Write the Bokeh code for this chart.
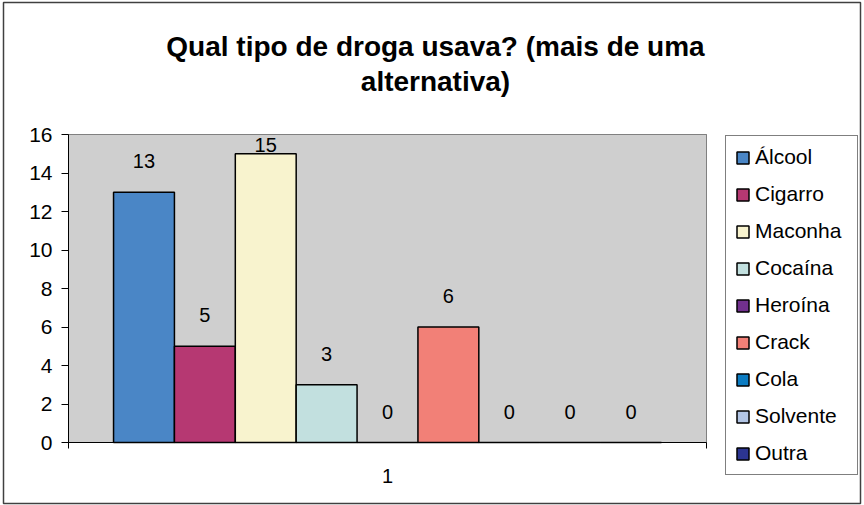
from bokeh.plotting import figure
from bokeh.models import (ColumnDataSource, FixedTicker, Legend, LegendItem,
                          Label, Range1d, BoxAnnotation)
from bokeh.embed import file_html
from bokeh.resources import INLINE
from bokeh.core.properties import value

# --- data -------------------------------------------------------------
drugs = ["Álcool", "Cigarro", "Maconha", "Cocaína", "Heroína",
         "Crack", "Cola", "Solvente", "Outra"]
counts = [13, 5, 15, 3, 0, 6, 0, 0, 0]
bar_colors = ["#4a86c6", "#b63872", "#f8f3ce", "#c2e0df", "#72308e",
              "#f28077", "#0c7cc2", "#b2c5e5", "#2c3591"]
y_ticks = [0, 2, 4, 6, 8, 10, 12, 14, 16]
category_label = "1"
title_lines = ["Qual tipo de droga usava? (mais de uma", "alternativa)"]

# --- layout (pixels on the 864x505 canvas) ----------------------------
FONT = "Liberation Sans"
W, H = 864, 505
AREA_L, AREA_R, AREA_T, AREA_B = 68, 706, 134, 442   # grey plot area
Y_MAX = 16
n = len(drugs)
gap = 0.74                                # empty space beside the bar group
lb, rb = -0.5 - gap, n - 0.5 + gap        # category boundaries
center = (n - 1) / 2
sx = (AREA_R - AREA_L) / (rb - lb)        # px per x unit
sy = (AREA_B - AREA_T) / Y_MAX            # px per y unit


def X(px):
    return lb + (px - AREA_L) / sx


def Y(py):
    return (AREA_B - py) / sy


xs = list(range(n))
label_y = [min(v + 1.6, Y_MAX - 0.55) for v in counts]
source = ColumnDataSource(dict(x=xs, top=counts, color=bar_colors,
                               ly=label_y, txt=[str(v) for v in counts]))

# the frame covers the whole canvas; axes sit at fixed data locations
p = figure(width=W, height=H, output_backend="svg", toolbar_location=None,
           x_range=Range1d(X(0), X(W)), y_range=Range1d(Y(H), Y(0)),
           min_border=0)
p.background_fill_color = "white"
p.border_fill_color = "white"
p.outline_line_color = None
p.xgrid.visible = False
p.ygrid.visible = False

# grey plot area with its outline
p.add_layout(BoxAnnotation(left=lb, right=rb, bottom=0, top=Y_MAX,
                           fill_color="#cfcfcf", fill_alpha=1,
                           line_color="#808080", line_width=1, line_alpha=1,
                           level="underlay"))
# horizontal grid lines at the value ticks
grid_y = [t for t in y_ticks if t > 0]
p.segment(x0=[lb] * len(grid_y), x1=[rb] * len(grid_y), y0=grid_y, y1=grid_y,
          line_color="#2a2a2a", line_width=1, level="underlay")

bars = p.vbar(x="x", top="top", width=1.0, source=source,
              fill_color="color", line_color="black", line_width=1.5)

p.text(x="x", y="ly", text="txt", source=source,
       text_font=value(FONT), text_font_size="20px", text_color="black",
       text_align="center", text_baseline="middle")

# y axis
ya = p.yaxis[0]
ya.fixed_location = lb
ya.bounds = (0, Y_MAX)
ya.ticker = FixedTicker(ticks=y_ticks)
ya.axis_line_color = "black"
ya.major_tick_line_color = "black"
ya.major_tick_out = 7
ya.major_tick_in = 0
ya.minor_tick_line_color = None
ya.major_label_standoff = 9
ya.major_label_text_font = FONT
ya.major_label_text_font_size = "21px"
ya.major_label_text_color = "black"

# x axis: category boundaries as minor ticks, single category label
xa = p.xaxis[0]
xa.fixed_location = 0
xa.bounds = (lb, rb)
xa.ticker = FixedTicker(ticks=[center], minor_ticks=[lb, rb])
xa.major_label_overrides = {center: category_label}
xa.axis_line_color = "black"
xa.major_tick_out = 0
xa.major_tick_in = 0
xa.minor_tick_out = 6
xa.minor_tick_in = 0
xa.minor_tick_line_color = "black"
xa.major_label_standoff = 20
xa.major_label_text_font = FONT
xa.major_label_text_font_size = "20px"
xa.major_label_text_color = "black"

# legend
items = [LegendItem(label=d, renderers=[bars], index=i) for i, d in enumerate(drugs)]
LEG_L, LEG_B = 725, 475
legend = Legend(items=items, location=(LEG_L, H - LEG_B),
                label_text_font=FONT, label_text_font_size="21px",
                label_text_color="black",
                glyph_width=15, glyph_height=15, label_standoff=5,
                label_height=23, label_width=93, spacing=13, padding=9,
                margin=0, border_line_color="black", border_line_width=1,
                background_fill_color="white", background_fill_alpha=1)
p.add_layout(legend, "center")

# chart title, two lines
TITLE_CX = 435
for line, base in zip(title_lines, [46, 81]):
    p.add_layout(Label(x=X(TITLE_CX), y=Y(base), text=line,
                       text_font=FONT, text_font_size="28px",
                       text_font_style="bold", text_align="center",
                       text_baseline="alphabetic", text_color="black"))

# outer chart border
p.add_layout(BoxAnnotation(left=X(3), right=X(860), top=Y(2), bottom=Y(503),
                           fill_alpha=0, line_color="#404040",
                           line_width=1.5, line_alpha=1))

open("out.html", "w").write(file_html(p, INLINE))
